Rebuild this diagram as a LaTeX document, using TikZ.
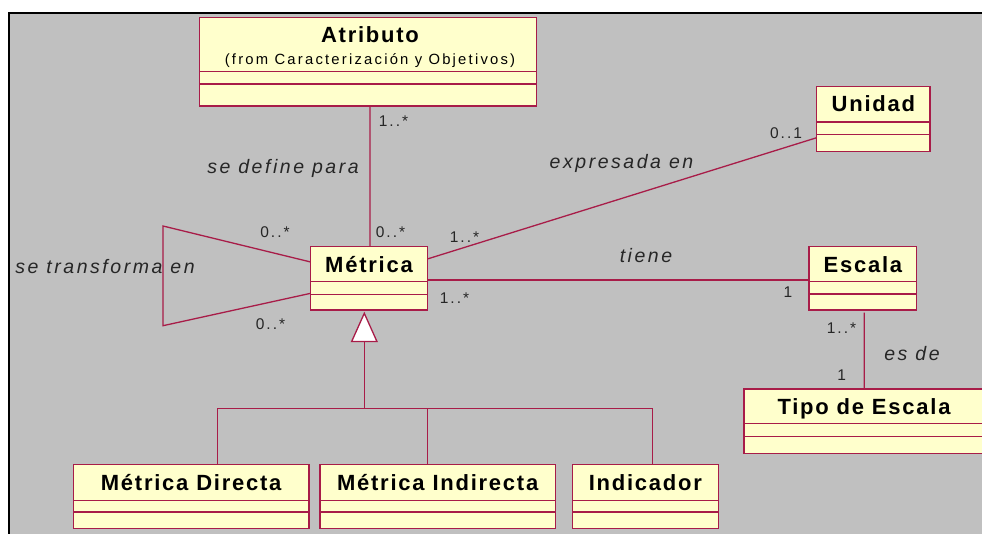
\documentclass[tikz,border=0pt]{standalone}
\usepackage{fontspec}
\setmainfont{Liberation Sans}
\newfontfamily\titlefont{Liberation Sans}[LetterSpace=8]
\newfontfamily\labfont{Liberation Sans}[LetterSpace=13]
\newfontfamily\fromfont{Liberation Sans}[LetterSpace=15]
\usetikzlibrary{arrows.meta,calc}
\definecolor{umlred}{RGB}{168,28,72}
\definecolor{umlfill}{RGB}{255,255,204}
\definecolor{bggray}{RGB}{192,192,192}
\tikzset{
  cls/.style={draw=umlred, fill=umlfill, line width=1.3pt, inner sep=0pt, outer sep=0pt},
  umlline/.style={draw=umlred, line width=1.3pt},
  ctitle/.style={font=\titlefont\bfseries\fontsize{22}{25}\selectfont, text height=15.7pt, text depth=0pt, inner sep=0pt},
  fromtxt/.style={font=\fromfont\fontsize{14.8}{17}\selectfont, text height=10.6pt, text depth=0pt, inner sep=0pt},
  mult/.style={font=\labfont\fontsize{15.5}{18}\selectfont, text height=11pt, text depth=0pt, inner sep=0pt, text=black!85},
  role/.style={font=\labfont\itshape\fontsize{19.5}{22}\selectfont, text height=11pt, text depth=0pt, inner sep=0pt, text=black!85},
}
% name, left, top, right, divider1, divider2, bottom
\newcommand{\umlclassbox}[7]{%
  \node[cls, minimum width={#4-#2}, minimum height={#7-#3}] (#1) at ({(#2+#4)/2},{(#3+#7)/2}) {};
  \draw[umlline] (#2,#5) -- (#4,#5) (#2,#6) -- (#4,#6);
}
\begin{document}
\begin{tikzpicture}[x=1pt, y=-1pt]
\useasboundingbox (0,0) rectangle (982,533);
\clip (0,0) rectangle (982,533);
\fill[white] (0,0) rectangle (982,533);
\draw[line width=2pt, fill=bggray] (9,13) rectangle (1000,550);

% classes
\umlclassbox{atr}{199.5}{17.3}{536.7}{71.3}{84}{106}
\node[ctitle] (atrt) at (370,35) {Atributo};
\node[fromtxt] (atrf) at (370,59) {(from Caracterización y Objetivos)};

\umlclassbox{met}{310.7}{246.7}{427.3}{281.3}{294.7}{310}
\node[ctitle] (mett) at (369,264.5) {Métrica};

\umlclassbox{uni}{816.7}{86.7}{930}{122}{134.3}{151.7}
\node[ctitle] (unit) at (873.4,104) {Unidad};

\umlclassbox{esc}{809}{246.7}{916.7}{281.7}{294}{310}
\node[ctitle] (esct) at (862.9,264.5) {Escala};

\umlclassbox{tipo}{744}{389}{984}{423.7}{436.3}{453.3}
\node[ctitle] (tipot) at (864,406.5) {Tipo de Escala};

\umlclassbox{dir}{73.3}{464.3}{309}{500.3}{512}{528.3}
\node[ctitle] (dirt) at (191.2,482.5) {Métrica Directa};

\umlclassbox{inr}{320}{464.3}{555.3}{500.3}{512}{528.3}
\node[ctitle] (inrt) at (437.7,482.5) {Métrica Indirecta};

\umlclassbox{idc}{572.3}{464.3}{718.3}{500.3}{512}{528.3}
\node[ctitle] (idct) at (645.3,482.5) {Indicador};

% associations
\draw[umlline] ([xshift=1.9pt]atr.south) -- ([xshift=1pt]met.north);
\draw[umlline] ([yshift=19.35pt]met.east) -- ([yshift=-18.5pt]uni.west);
\draw[umlline] ([yshift=-1.65pt]met.east) -- ([yshift=-1.65pt]esc.west);
\draw[umlline] ([xshift=1.45pt,yshift=-2.5pt]esc.south) -- ([xshift=0.3pt]tipo.north);

% self association
\coordinate (lt) at (163,226);
\coordinate (lb) at (163,325.7);
\draw[umlline] ([yshift=16.35pt]met.west) -- (lt) -- (lb) -- ([yshift=-14.95pt]met.west);

% generalization
\coordinate (gj) at (364.3,408.7);
\coordinate (dtop) at ([xshift=26.1pt]dir.north);
\coordinate (itop) at ([xshift=-10.35pt]inr.north);
\coordinate (ctop) at ([xshift=7.4pt]idc.north);
\draw[umlline] (dtop) |- (gj);
\draw[umlline] (ctop) |- (gj);
\draw[umlline] (itop) -- (itop |- gj);
\draw[umlline, shorten >=1.7pt, -{Triangle[open, fill=white, length=30.5pt, width=27pt]}] (gj) -- (gj |- met.south);

% labels
\node[mult] (m1) at (393.5,121) {1..*};
\node[role] (r1) at (283,168) {se define para};
\node[role] (r2) at (621.5,163) {expresada en};
\node[mult] (m2) at (786,132.7) {0..1};
\node[mult] (m3) at (275,232) {0..*};
\node[mult] (m4) at (390.5,232) {0..*};
\node[mult] (m5) at (464.5,237) {1..*};
\node[role] (r3) at (105,268) {se transforma en};
\node[role] (r4) at (646,257) {tiene};
\node[mult] (m6) at (454.5,297.7) {1..*};
\node[mult] (m7) at (788,291.7) {1};
\node[mult] (m8) at (270.5,324) {0..*};
\node[mult] (m9) at (841.5,328) {1..*};
\node[role] (r5) at (912,355) {es de};
\node[mult] (m10) at (841.7,375) {1};
\end{tikzpicture}
\end{document}
